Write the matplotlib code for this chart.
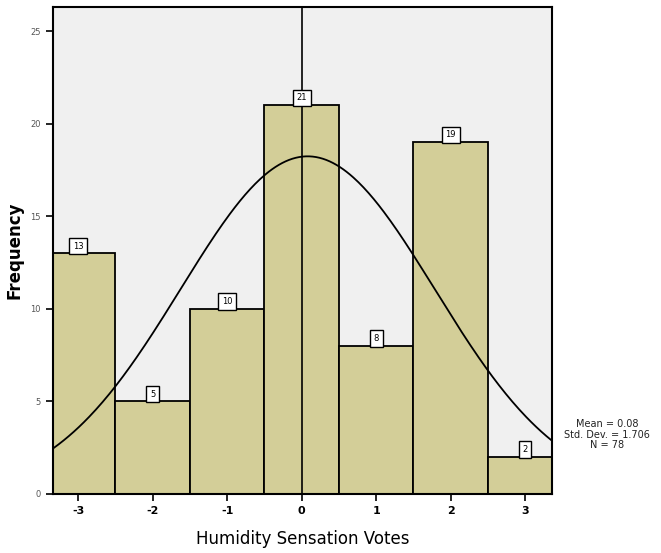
import numpy as np
import matplotlib
matplotlib.use('Agg')
import matplotlib.pyplot as plt

# data
votes = [-3, -2, -1, 0, 1, 2, 3]
tick_labels = ['-3', '-2', '-1', '0', '1', '2', '3']
counts = [13, 5, 10, 21, 8, 19, 2]
mean = 0.08
sd = 1.706
n = 78

bar_color = '#d3ce98'
bg_color = '#f0f0f0'

fig = plt.figure(figsize=(6.61, 5.53), dpi=100)
ax = fig.add_axes([0.080, 0.107, 0.755, 0.880])
ax.set_facecolor(bg_color)

ax.bar(votes, counts, width=1.0, color=bar_color, edgecolor='black', linewidth=1.3, zorder=2)

# normal curve from the summary stats
xs = np.linspace(-3.4, 3.4, 300)
ys = n * 1.0 / (sd * np.sqrt(2 * np.pi)) * np.exp(-0.5 * ((xs - mean) / sd) ** 2)
ax.plot(xs, ys, color='black', lw=1.3, zorder=3)

# reference line at zero
ax.axvline(0, color='black', lw=1.2, zorder=4)

# count labels in little boxes
for v, c in zip(votes, counts):
    ax.text(v, c + 0.15, str(c), ha='center', va='bottom', fontsize=6,
            bbox=dict(boxstyle='square,pad=0.45', fc='white', ec='black', lw=1.0), zorder=5)

ax.set_xlim(-3.34, 3.36)
ax.set_ylim(0, 26.3)
ax.set_xticks(votes)
ax.set_xticklabels(tick_labels, fontsize=8, fontweight='bold')
ax.set_yticks([0, 5, 10, 15, 20, 25])
ax.tick_params(axis='y', labelsize=6, labelcolor='#555555', length=5, width=1.2)
ax.tick_params(axis='x', length=5, width=1.2, pad=4)

for s in ax.spines.values():
    s.set_linewidth(1.5)

ax.set_xlabel('Humidity Sensation Votes', fontsize=12, labelpad=10)
ax.set_ylabel('Frequency', fontsize=12, fontweight='bold', labelpad=5)

fig.text(0.918, 0.214, 'Mean = %.2f\nStd. Dev. = %.3f\nN = %d' % (mean, sd, n),
         ha='center', va='center', fontsize=7, color='#222222', linespacing=1.1)

fig.savefig('out.png', dpi=100)
